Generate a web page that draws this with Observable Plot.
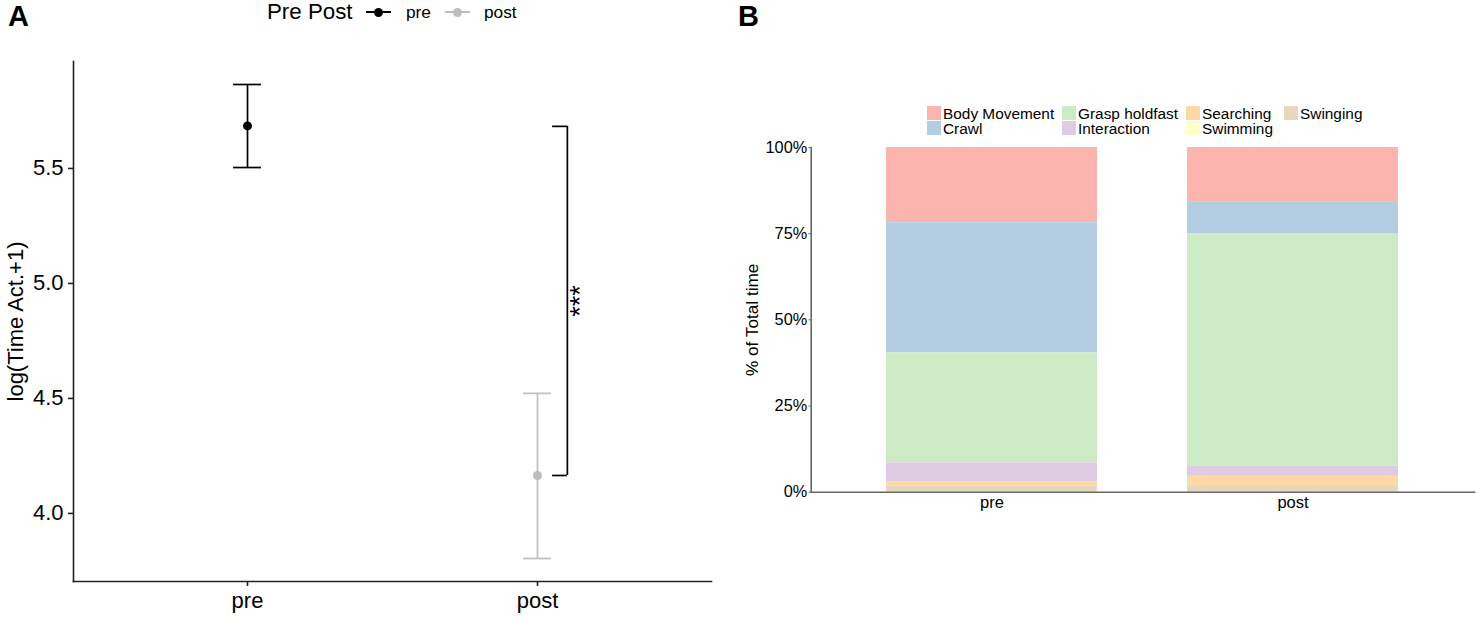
<!DOCTYPE html>
<html>
<head>
<meta charset="utf-8">
<script src="https://cdn.jsdelivr.net/npm/d3@7"></script>
<script src="https://cdn.jsdelivr.net/npm/@observablehq/plot@0.6"></script>
<style>
  html, body { margin: 0; padding: 0; background: #fff; overflow: hidden; }
  body { width: 1476px; height: 617px; position: relative; font-family: "Liberation Sans", Arial, sans-serif; color: #000; }
  #chartA, #chartB { position: absolute; top: 0; }
  #chartA { left: 0; }
  #chartB { left: 730px; }
  svg { display: block; background: transparent !important; }
  .tag { position: absolute; top: 0; font-weight: bold; font-size: 29px; line-height: 32px; }
  .lab { position: absolute; white-space: nowrap; line-height: 1; }
  .sw { position: absolute; width: 14px; height: 14px; }
  .key { position: absolute; height: 2px; width: 25px; top: 11px; }
  .keydot { position: absolute; width: 9px; height: 9px; border-radius: 50%; top: 7.5px; }
</style>
</head>
<body>
<div id="chartA"></div>
<div id="chartB"></div>
<div class="tag" style="left:8px">A</div>
<div class="tag" style="left:738px">B</div>
<div id="legendA"></div>
<div id="legendB"></div>
<script>
// panel A: log time active, mean with error bars
const phases = ["pre", "post"];
const phaseColors = ["#000000", "#BEBEBE"];
const means = [5.685, 4.165];
const lowers = [5.504, 3.804];
const uppers = [5.865, 4.522];
const yTicksA = [4.0, 4.5, 5.0, 5.5];

// panel B: % of total time per behaviour, top of the stack first
const behaviours = ["Body Movement", "Crawl", "Grasp holdfast", "Interaction", "Searching", "Swimming", "Swinging"];
const behaviourColors = ["#FBB4AE", "#B3CDE3", "#CCEBC5", "#DECBE4", "#FED9A6", "#FFFFCC", "#E5D8BD"];
const preShares = [21.8, 37.8, 31.9, 5.6, 1.1, 0, 1.8];
const postShares = [15.9, 9.2, 67.3, 3.0, 2.7, 0, 1.9];
const yTicksB = [0, 25, 50, 75, 100];

const capHalf = 0.048;
const statsA = phases.map((p, i) => ({i, p, mean: means[i], lo: lowers[i], hi: uppers[i]}));
const bracket = {x1: 1.052, x2: 1.103, y1: means[1], y2: 5.683};
const axisInk = "#222";

let chartA = Plot.plot({
  width: 730,
  height: 617,
  marginLeft: 73,
  marginRight: 19,
  marginTop: 61,
  marginBottom: 36,
  style: {fontFamily: "Liberation Sans, Arial, sans-serif", color: "#000"},
  x: {domain: [-0.6, 1.6]},
  y: {domain: [3.704, 5.965]},
  color: {domain: phases, range: phaseColors},
  marks: [
    Plot.axisY({ticks: yTicksA, tickFormat: d3.format(".1f"), tickSize: 5, tickPadding: 5, fontSize: 22, stroke: axisInk, strokeWidth: 1.6,
      label: "log(Time Act.+1)", labelAnchor: "center", labelArrow: "none", labelOffset: 66}),
    Plot.axisX({ticks: [0, 1], tickFormat: i => phases[i], tickSize: 5, tickPadding: 6, fontSize: 22, label: null, stroke: axisInk, strokeWidth: 1.6}),
    Plot.frame({anchor: "left", stroke: axisInk, strokeWidth: 1.6}),
    Plot.frame({anchor: "bottom", stroke: axisInk, strokeWidth: 1.6}),
    Plot.ruleX(statsA, {x: "i", y1: "lo", y2: "hi", stroke: "p", strokeWidth: 1.7}),
    Plot.ruleY(statsA, {y: "lo", x1: d => d.i - capHalf, x2: d => d.i + capHalf, stroke: "p", strokeWidth: 1.7}),
    Plot.ruleY(statsA, {y: "hi", x1: d => d.i - capHalf, x2: d => d.i + capHalf, stroke: "p", strokeWidth: 1.7}),
    Plot.dot(statsA, {x: "i", y: "mean", fill: "p", r: 4.5}),
    // significance bracket
    Plot.ruleX([bracket.x2], {y1: bracket.y1, y2: bracket.y2, stroke: "#000", strokeWidth: 1.7}),
    Plot.ruleY([bracket.y1, bracket.y2], {x1: bracket.x1, x2: bracket.x2, stroke: "#000", strokeWidth: 1.7}),
    Plot.text(["***"], {x: bracket.x2, y: (bracket.y1 + bracket.y2) / 2, rotate: -90, dx: 13, dy: 0, fontSize: 27, fill: "#000"})
  ]
});
d3.select("#chartA").append(() => chartA);

const rowsB = phases.flatMap((p, i) => behaviours.map((b, j) => ({
  phase: p, behaviour: b, share: (i === 0 ? preShares : postShares)[j], order: j
})));

let chartB = Plot.plot({
  width: 746,
  height: 617,
  marginLeft: 80.7,
  marginRight: 2,
  marginTop: 147,
  marginBottom: 125.3,
  style: {fontFamily: "Liberation Sans, Arial, sans-serif", color: "#000"},
  x: {domain: phases, paddingInner: 0.3, paddingOuter: 0.25, align: 0.495},
  y: {domain: [0, 100]},
  color: {domain: behaviours, range: behaviourColors},
  marks: [
    Plot.barY(rowsB, {x: "phase", y: "share", fill: "behaviour", order: d => -d.order}),
    Plot.axisY({ticks: yTicksB, tickFormat: d => d + "%", tickSize: 2, tickPadding: 2, fontSize: 16.3, stroke: "#555", label: null}),
    Plot.axisX({tickSize: 0, tickPadding: 4, fontSize: 16.5, label: null}),
    Plot.text(["% of Total time"], {frameAnchor: "left", textAnchor: "middle", rotate: -90, dx: -58.7, fontSize: 17.2, fill: "#000"}),
    Plot.frame({anchor: "left", stroke: "#666", strokeWidth: 1.6}),
    Plot.frame({anchor: "bottom", stroke: "#666", strokeWidth: 1.6})
  ]
});
d3.select("#chartB").append(() => chartB);

// legends
const legA = d3.select("#legendA");
legA.append("div").attr("class", "lab").style("left", "267px").style("top", "1px").style("font-size", "22.3px").text("Pre Post");
[[366, 406], [445, 484]].forEach(([kx, tx], i) => {
  legA.append("div").attr("class", "key").style("left", kx + "px").style("background", phaseColors[i]);
  legA.append("div").attr("class", "keydot").style("left", (kx + 8) + "px").style("background", phaseColors[i]);
  legA.append("div").attr("class", "lab").style("left", tx + "px").style("top", "3.5px").style("font-size", "17.3px").text(phases[i]);
});

const legB = d3.select("#legendB");
const colX = [927, 1062, 1186, 1284];
behaviours.forEach((b, i) => {
  const col = Math.floor(i / 2), row = i % 2;
  const top = 106 + row * 14.6;
  legB.append("div").attr("class", "sw").style("left", colX[col] + "px").style("top", top + "px").style("background", behaviourColors[i]);
  legB.append("div").attr("class", "lab").style("left", (colX[col] + 16) + "px").style("top", top + "px").style("font-size", "15.4px").text(b);
});
</script>
</body>
</html>
